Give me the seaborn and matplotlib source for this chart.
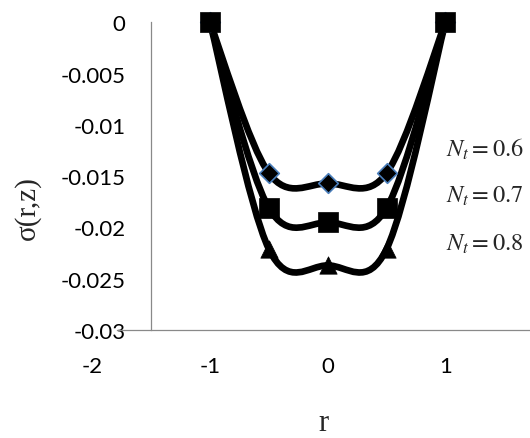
import numpy as np
import pandas as pd
import matplotlib
matplotlib.use("Agg")
import matplotlib.pyplot as plt
from matplotlib.path import Path
from matplotlib.patches import PathPatch
import seaborn as sns

# radial positions and stress values for each N_t
r = [-1.0, -0.5, 0.0, 0.5, 1.0]
sigma_06 = [0.0, -0.0147, -0.0157, -0.0147, 0.0]
sigma_07 = [0.0, -0.0181, -0.0195, -0.0181, 0.0]
sigma_08 = [0.0, -0.0221, -0.0237, -0.0221, 0.0]

labels = [r"$N_t = 0.6$", r"$N_t = 0.7$", r"$N_t = 0.8$"]
x_ticks = [-2, -1, 0, 1]
y_ticks = [0, -0.005, -0.01, -0.015, -0.02, -0.025, -0.03]
y_tick_labels = ["0", "-0.005", "-0.01", "-0.015", "-0.02", "-0.025", "-0.03"]

sns.set_theme(style="white")
plt.rcParams["font.family"] = ["Lato", "DejaVu Sans"]
plt.rcParams["mathtext.fontset"] = "stix"

W, H = 530, 439
fig = plt.figure(figsize=(W / 100, H / 100), dpi=100)

# axes placed in pixel terms
ax_left, ax_right, ax_bottom, ax_top = 60, 530, 331, 5
ax = fig.add_axes([ax_left / W, (H - ax_bottom) / H,
                   (ax_right - ax_left) / W, (ax_bottom - ax_top) / H])

px_per_r = 117.75
r0_px = 327.7
ax.set_xlim((ax_left - r0_px) / px_per_r, (ax_right - r0_px) / px_per_r)
px_per_sigma = 307.7 / 0.03
ax.set_ylim(-0.03, (23.3 - ax_top) / px_per_sigma)


def smooth_path(xs, ys):
    """Cubic Bezier path through the points (Catmull-Rom style tangents)."""
    pts = np.column_stack([xs, ys]).astype(float)
    n = len(pts)
    verts = [pts[0]]
    codes = [Path.MOVETO]
    for i in range(n - 1):
        p0 = pts[i - 1] if i > 0 else pts[i]
        p1 = pts[i]
        p2 = pts[i + 1]
        p3 = pts[i + 2] if i + 2 < n else pts[i + 1]
        c1 = p1 + (p2 - p0) / 6.0
        c2 = p2 - (p3 - p1) / 6.0
        verts += [c1, c2, p2]
        codes += [Path.CURVE4] * 3
    return Path(np.array(verts), codes)


series = [
    (sigma_06, "D", 10.0, "#4A7EBB", 1.2, 4),
    (sigma_08, "^", 12.5, "black", 0.5, 5),
    (sigma_07, "s", 14.8, "black", 0.5, 6),
]

for vals, *_ in series:
    patch = PathPatch(smooth_path(r, vals), facecolor="none", edgecolor="black",
                      lw=4.8, capstyle="round", joinstyle="round", zorder=2,
                      clip_on=False)
    ax.add_patch(patch)

for vals, mk, ms, ec, ew, z in series:
    df = pd.DataFrame({"r": r, "sigma": vals})
    sns.scatterplot(data=df, x="r", y="sigma", marker=mk, s=ms ** 2,
                    color="black", edgecolor=ec, linewidth=ew, zorder=z,
                    clip_on=False, ax=ax, legend=False)

# axes styling: spines crossing like a spreadsheet chart
for side in ["top", "right"]:
    ax.spines[side].set_visible(False)
spine_color = "#898989"
ax.spines["left"].set_position(("data", -1.5))
ax.spines["left"].set_bounds(-0.03, 0)
ax.spines["bottom"].set_bounds((117 - r0_px) / px_per_r, (ax_right - r0_px) / px_per_r)
for side in ["left", "bottom"]:
    ax.spines[side].set_color(spine_color)
    ax.spines[side].set_linewidth(0.9)
    ax.spines[side].set_zorder(1)

ax.set_yticks(y_ticks)
ax.set_yticklabels(y_tick_labels)
ax.set_xticks(x_ticks)
ax.set_xticklabels([str(t) for t in x_ticks])
ax.tick_params(axis="both", length=0, labelsize=16, colors="black")
ax.tick_params(axis="y", pad=18.5)
ax.tick_params(axis="x", pad=18.5)
ax.grid(False)
ax.set_xlabel("")
ax.set_ylabel("")

# axis titles in serif type
fig.text(27 / W, 1 - 208 / H, "σ(r,z)", rotation=90, ha="center", va="center",
         fontsize=21, family=["Liberation Serif", "DejaVu Serif"])
fig.text(323 / W, 1 - 424 / H, "r", ha="center", va="center",
         fontsize=22, family=["Liberation Serif", "DejaVu Serif"])

# series labels
for lab, base in zip(labels, [157, 203, 251]):
    fig.text(446 / W, 1 - base / H, lab, ha="left", va="baseline", fontsize=17.5)

fig.savefig("out.png", dpi=100)
